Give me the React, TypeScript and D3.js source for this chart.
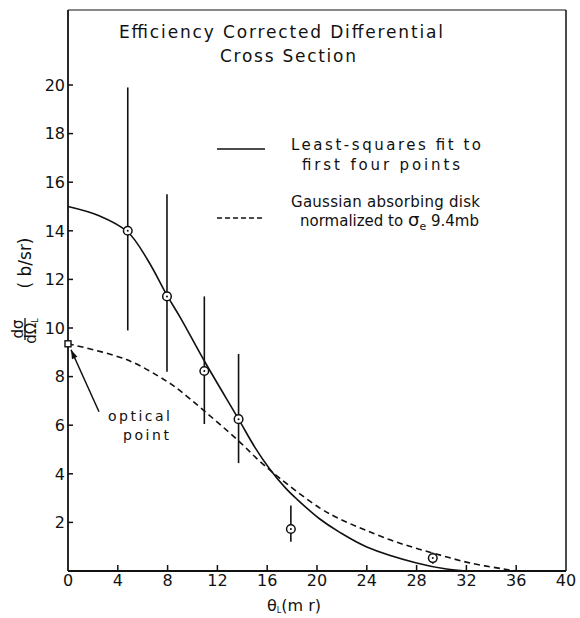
import React from "react";
import * as d3 from "d3";

// Measured points (theta in mr, dσ/dΩ in b/sr)
const thetaPts = [4.8, 7.95, 10.95, 13.7, 17.9, 29.3];
const sigmaPts = [14.0, 11.3, 8.23, 6.25, 1.73, 0.53];
const errLo = [9.9, 8.2, 6.05, 4.44, 1.2, 0.3];
const errHi = [19.9, 15.5, 11.3, 8.93, 2.7, 0.76];

// Least-squares fit curve (solid)
const fitTheta = [0, 2.5, 4.8, 6.4, 8, 9, 11, 13.7, 15, 16.2, 17.5, 18.4, 20.2, 21.8, 24, 28, 30.4, 32];
const fitSigma = [15.0, 14.62, 13.95, 12.8, 11.3, 10.45, 8.6, 6.25, 5.1, 4.2, 3.4, 2.95, 2.15, 1.6, 0.99, 0.33, 0.08, 0];

// Gaussian absorbing disk curve (dashed)
const diskTheta = [0, 4.7, 7.95, 9, 10.85, 13.6, 15.4, 17, 20.2, 21.8, 23.9, 26.5, 29.3, 32.3, 35.5, 36];
const diskSigma = [9.35, 8.7, 7.8, 7.42, 6.63, 5.4, 4.52, 3.82, 2.6, 2.15, 1.68, 1.17, 0.74, 0.33, 0.04, 0];

// Optical point
const opticalTheta = 0;
const opticalSigma = 9.35;

const xTicks = [0, 4, 8, 12, 16, 20, 24, 28, 32, 36, 40];
const yTicks = [2, 4, 6, 8, 10, 12, 14, 16, 18, 20];

const FONT = "'DejaVu Sans', sans-serif";
const INK = "#111";

export default function App() {
  const W = 580, H = 618;
  const left = 68, right = 566, top = 10, bottom = 571;
  const x = d3.scaleLinear().domain([0, 40]).range([left, right]);
  const y = d3.scaleLinear().domain([0, 20]).range([bottom, bottom - 20 * 24.3]);

  const line = d3
    .line<[number, number]>()
    .x((d) => x(d[0]))
    .y((d) => y(d[1]))
    .curve(d3.curveCatmullRom.alpha(0.5));

  const fitPath = line(fitTheta.map((t, i) => [t, fitSigma[i]]) as [number, number][]) || "";
  const diskPath = line(diskTheta.map((t, i) => [t, diskSigma[i]]) as [number, number][]) || "";

  const ox = x(opticalTheta), oy = y(opticalSigma);
  const arrowTail = [ox + 31, oy + 68];
  const arrowTip = [ox + 3, oy + 6];
  const ang = Math.atan2(arrowTip[1] - arrowTail[1], arrowTip[0] - arrowTail[0]);
  const ah = 9, aw = 3;
  const headPts = [
    [arrowTip[0], arrowTip[1]],
    [arrowTip[0] - ah * Math.cos(ang) + aw * Math.sin(ang), arrowTip[1] - ah * Math.sin(ang) - aw * Math.cos(ang)],
    [arrowTip[0] - ah * Math.cos(ang) - aw * Math.sin(ang), arrowTip[1] - ah * Math.sin(ang) + aw * Math.cos(ang)],
  ];

  return (
    <svg width={W} height={H} style={{ position: "absolute", left: 0, top: 0, background: "#fff" }}>
      <rect x={0} y={0} width={W} height={H} fill="#fff" />
      {/* frame */}
      <line x1={left} x2={right} y1={top} y2={top} stroke={INK} strokeWidth={1.2} />
      <line x1={right} x2={right} y1={top} y2={bottom} stroke={INK} strokeWidth={1.5} />
      <line x1={left} x2={left} y1={top} y2={bottom} stroke={INK} strokeWidth={1.8} />
      <line x1={left} x2={right} y1={bottom} y2={bottom} stroke={INK} strokeWidth={2} />

      {/* y ticks */}
      {yTicks.map((v) => (
        <g key={"y" + v}>
          <line x1={left} x2={left + 5} y1={y(v)} y2={y(v)} stroke={INK} strokeWidth={1.5} />
          <text x={left - 3} y={y(v)} dy="0.36em" textAnchor="end" fontFamily={FONT} fontSize={16} fill={INK}>
            {v}
          </text>
        </g>
      ))}
      {/* x ticks */}
      {xTicks.map((v) => (
        <g key={"x" + v}>
          {v > 0 && v < 40 && (
            <line x1={x(v)} x2={x(v)} y1={bottom} y2={bottom - 6} stroke={INK} strokeWidth={1.5} />
          )}
          <text x={x(v)} y={bottom + 15} textAnchor="middle" fontFamily={FONT} fontSize={16} fill={INK}>
            {v}
          </text>
        </g>
      ))}

      {/* x label */}
      <text x={294} y={611} textAnchor="middle" fontFamily={FONT} fontSize={16} fill={INK}>
        θ<tspan fontSize={8} dy={2}>L</tspan>
        <tspan dy={-2}>(m r)</tspan>
      </text>

      {/* y label */}
      <g transform="translate(25,329) rotate(-90)" fontFamily={FONT} fill={INK}>
        <text x={0} y={-2} textAnchor="middle" fontSize={15}>dσ</text>
        <line x1={-11} x2={11} y1={0} y2={0} stroke={INK} strokeWidth={1.3} />
        <text x={-2} y={11} textAnchor="middle" fontSize={15}>
          dΩ<tspan fontSize={8} dy={2}>L</tspan>
        </text>
        <text x={66} y={6} textAnchor="middle" fontSize={17}>( b/sr)</text>
      </g>

      {/* title */}
      <text x={281} y={38} textAnchor="middle" fontFamily={FONT} fontSize={17} fill={INK} textLength={324} lengthAdjust="spacing">
        Efficiency Corrected Differential
      </text>
      <text x={288} y={62} textAnchor="middle" fontFamily={FONT} fontSize={17} fill={INK} textLength={136} lengthAdjust="spacing">
        Cross Section
      </text>

      {/* legend */}
      <line x1={217} x2={265} y1={149} y2={149} stroke={INK} strokeWidth={1.5} />
      <line x1={217} x2={265} y1={218} y2={218} stroke={INK} strokeWidth={1.5} strokeDasharray="5,3" />
      <text x={291} y={150} fontFamily={FONT} fontSize={15} fill={INK} textLength={190} lengthAdjust="spacing">
        Least-squares fit to
      </text>
      <text x={302} y={170} fontFamily={FONT} fontSize={15} fill={INK} textLength={158} lengthAdjust="spacing">
        first four points
      </text>
      <text x={291} y={207} fontFamily={FONT} fontSize={15} fill={INK} textLength={189} lengthAdjust="spacing">
        Gaussian absorbing disk
      </text>
      <text x={300} y={226} fontFamily={FONT} fontSize={15} fill={INK}>
        normalized to <tspan fontSize={18}>σ</tspan>
        <tspan fontSize={11} dy={4}>e</tspan>
        <tspan dy={-4}> 9.4mb</tspan>
      </text>

      {/* curves */}
      <path d={fitPath} fill="none" stroke={INK} strokeWidth={1.6} />
      <path d={diskPath} fill="none" stroke={INK} strokeWidth={1.6} strokeDasharray="6,4" />

      {/* error bars & points */}
      {thetaPts.map((t, i) => (
        <g key={"p" + i}>
          <line x1={x(t)} x2={x(t)} y1={y(errLo[i])} y2={y(errHi[i])} stroke={INK} strokeWidth={1.6} />
          <circle cx={x(t)} cy={y(sigmaPts[i])} r={4.3} fill="#fff" stroke={INK} strokeWidth={1.5} />
          <circle cx={x(t)} cy={y(sigmaPts[i])} r={1} fill={INK} />
        </g>
      ))}

      {/* optical point */}
      <rect x={ox - 3} y={oy - 3} width={6} height={6} fill="#fff" stroke={INK} strokeWidth={1.4} />
      <line x1={arrowTail[0]} y1={arrowTail[1]} x2={arrowTip[0]} y2={arrowTip[1]} stroke={INK} strokeWidth={1.5} />
      <polygon points={headPts.map((p) => p.join(",")).join(" ")} fill={INK} />
      <text x={139} y={421} textAnchor="middle" fontFamily={FONT} fontSize={14} fill={INK} textLength={62} lengthAdjust="spacing">
        optical
      </text>
      <text x={146} y={440} textAnchor="middle" fontFamily={FONT} fontSize={14} fill={INK} textLength={46} lengthAdjust="spacing">
        point
      </text>
    </svg>
  );
}
